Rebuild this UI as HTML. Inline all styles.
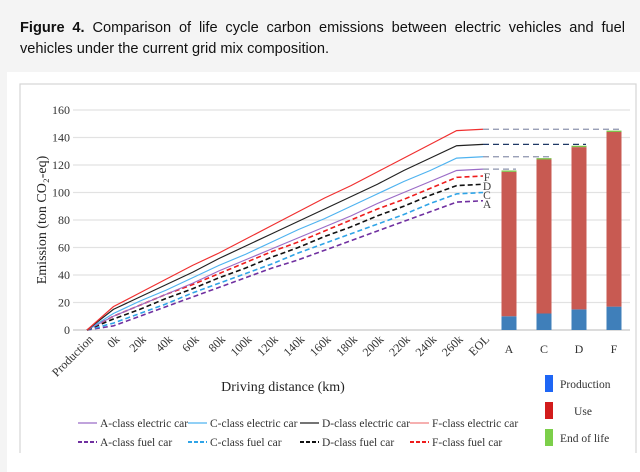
<!DOCTYPE html>
<html><head><meta charset="utf-8"><style>
body{margin:0;width:640px;height:453px;background:#f4f4f4;overflow:hidden;font-family:"Liberation Sans",sans-serif}
#cap{position:absolute;left:20px;top:18px;width:605px;font-size:14.6px;line-height:21px;color:#111;text-align:justify;text-align-last:left}
#panel{position:absolute;left:7px;top:72px;width:640px;height:400px;background:#fff}
svg{position:absolute;left:0;top:0}
</style></head><body>
<div id="cap"><b>Figure 4.</b> Comparison of life cycle carbon emissions between electric vehicles and fuel vehicles under the current grid mix composition.</div>
<div id="panel"></div>
<svg id="chart" width="640" height="453" font-family="Liberation Serif, serif"></svg>
<script>
const categories=["Production","0k","20k","40k","60k","80k","100k","120k","140k","160k","180k","200k","220k","240k","260k","EOL"];
const yTicks=[0,20,40,60,80,100,120,140,160];
const elecA=[0,10,18,26,34,43,51,59,67,75,83,92,100,108,116,117];
const elecC=[0,12,21,29,38,47,55,64,73,81,90,99,108,116,125,126];
const elecD=[0,15,24,33,42,52,61,70,79,88,97,106,116,125,134,135];
const elecF=[0,17,27,37,47,56,66,76,86,96,105,115,125,135,145,146];
const fuelA=[0,3,10,17,24,31,38,45,51,58,65,72,79,86,93,94];
const fuelC=[0,5,12,19,27,34,41,48,56,63,70,77,84,92,99,100];
const fuelD=[0,8,15,23,30,38,45,53,60,68,75,83,90,98,105,106];
const fuelF=[0,10,18,26,33,41,49,57,64,72,80,88,95,103,111,112];
const barCats=["A","C","D","F"];
const barProd=[10,12,15,17];
const barUse=[105,112,118,127];
const barEol=[1,1,1,1];

const NS="http://www.w3.org/2000/svg";
const svg=document.getElementById('chart');
function mk(t,a,p){const e=document.createElementNS(NS,t);for(const k in a)e.setAttribute(k,a[k]);(p||svg).appendChild(e);return e;}
const y=v=>330-v*1.375;
const x=i=>87+i*26.4;
const bx=i=>509+i*35;

mk('rect',{x:20,y:84,width:616,height:380,fill:'none',stroke:'#d6d6d6','stroke-width':1.2});
yTicks.forEach(t=>{
 const g=mk('line',{x1:73,x2:630,y1:y(t),y2:y(t),stroke:t===0?'#d0d0d0':'#e2e2e2','stroke-width':t===0?1.5:1.2});
 
 const tx=mk('text',{x:70,y:y(t)+4,'text-anchor':'end','font-size':12,fill:'#333'});tx.textContent=t;
 
});
const yt=mk('text',{transform:'translate(46,220) rotate(-90)','text-anchor':'middle','font-size':14,fill:'#222'});
yt.textContent='Emission (ton CO₂-eq)';

categories.forEach((c,i)=>{
 const t=mk('text',{transform:`translate(${x(i)+7},${340}) rotate(-45)`,'text-anchor':'end','font-size':12,fill:'#333'});t.textContent=c;
 
});
const xt=mk('text',{x:283,y:391,'text-anchor':'middle','font-size':14,fill:'#222'});xt.textContent='Driving distance (km)';


[[elecF,3],[elecD,2],[elecC,1],[elecA,0]].forEach(([s,b],k)=>{
 const l=mk('line',{x1:x(15),x2:bx(b)+7,y1:y(s[15]),y2:y(s[15]),stroke:k===1?'#1f3864':'#8c93ad','stroke-width':1.3,'stroke-dasharray':'6,4'});
 
});
const series=[[fuelA,'#7030a0',1],[fuelC,'#2fa4e7',1],[fuelD,'#111',1],[fuelF,'#ee1c1c',1],[elecA,'#9b6cc7',0],[elecC,'#4fb3f0',0],[elecD,'#222',0],[elecF,'#f03030',0]];
const names=['a-fuel-line','c-fuel-line','d-fuel-line','f-fuel-line','a-electric-line','c-electric-line','d-electric-line','f-electric-line'];
series.forEach(([s,c,d],k)=>{
 const p=mk('polyline',{points:s.map((v,i)=>x(i)+','+y(v)).join(' '),fill:'none',stroke:c,'stroke-width':d?1.6:1.2,'stroke-dasharray':d?'5,3':'none'});
 
});
['F','D','C','A'].forEach((l,k)=>{
 const t=mk('text',{x:487,y:y(fuelF[15])+1+k*9+4,'font-size':11.5,fill:'#444','text-anchor':'middle'});t.textContent=l;
 
});
barCats.forEach((c,i)=>{
 const x0=bx(i)-7.5,w=15;
 const p=mk('rect',{x:x0,y:y(barProd[i]),width:w,height:barProd[i]*1.375,fill:'#3f7fba'});
 
 const u=mk('rect',{x:x0,y:y(barProd[i]+barUse[i]),width:w,height:barUse[i]*1.375,fill:'#c85a52'});
 
 const e=mk('rect',{x:x0,y:y(barProd[i]+barUse[i]+barEol[i]),width:w,height:barEol[i]*1.375,fill:'#7cc24a'});
 
 const t=mk('text',{x:bx(i),y:353,'text-anchor':'middle','font-size':12,fill:'#333'});t.textContent=c;
 
});
const leg=[['A-class electric car','#9b6cc7',0,78,423],['C-class electric car','#4fb3f0',0,188,423],['D-class electric car','#222',0,300,423],['F-class electric car','#f08080',0,410,423],
['A-class fuel car','#7030a0',1,78,442],['C-class fuel car','#2fa4e7',1,188,442],['D-class fuel car','#111',1,300,442],['F-class fuel car','#ee1c1c',1,410,442]];
leg.forEach(([n,c,d,lx,ly])=>{
 const g=mk('g',{});
 mk('line',{x1:lx,x2:lx+19,y1:ly,y2:ly,stroke:c,'stroke-width':d?2:1.3,'stroke-dasharray':d?'4,2':'none'},g);
 const t=mk('text',{x:lx+22,y:ly+4,'font-size':11.5,fill:'#333'},g);t.textContent=n;
});
[['Production','#1e66f5',384,560,'start'],['Use','#d21c1c',411,583,'middle'],['End of life','#7ccf4a',438,560,'start']].forEach(([n,c,ly,tx,a])=>{
 const g=mk('g',{});
 mk('rect',{x:545,y:ly-9,width:8,height:17,fill:c},g);
 const t=mk('text',{x:tx,y:ly+4,'font-size':11.5,fill:'#333','text-anchor':a},g);t.textContent=n;
});
</script>
</body></html>
